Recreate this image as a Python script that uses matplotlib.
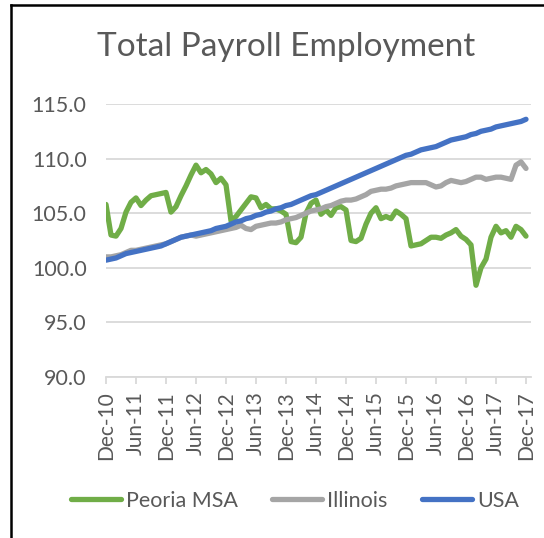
import matplotlib.pyplot as plt
from matplotlib.lines import Line2D

# monthly index, Dec-10 .. Dec-17 (85 months)
peoria = [105.8, 103.0, 102.9, 103.6, 105.1, 106.0, 106.4, 105.7, 106.2, 106.6,
          106.7, 106.8, 106.9, 105.1, 105.6, 106.6, 107.5, 108.5, 109.4, 108.7,
          109.0, 108.6, 107.8, 108.2, 107.6, 104.3, 104.7, 105.3, 105.9, 106.5,
          106.4, 105.5, 105.8, 105.4, 105.4, 105.2, 104.9, 102.4, 102.3, 102.8,
          105.0, 105.9, 106.2, 104.9, 105.3, 104.8, 105.5, 105.6, 105.3, 102.5,
          102.4, 102.7, 104.0, 105.0, 105.5, 104.5, 104.7, 104.5, 105.2, 104.9,
          104.5, 102.0, 102.1, 102.2, 102.5, 102.8, 102.8, 102.7, 103.0, 103.2,
          103.5, 102.9, 102.6, 102.1, 98.4, 100.0, 100.8, 102.8, 103.8, 103.2,
          103.4, 102.8, 103.8, 103.5, 102.9]

illinois = [101.0, 101.0, 101.1, 101.2, 101.4, 101.6, 101.6, 101.7, 101.8, 101.9,
            102.0, 102.1, 102.2, 102.4, 102.6, 102.8, 102.9, 103.0, 102.9, 103.0,
            103.1, 103.2, 103.3, 103.4, 103.5, 103.6, 103.7, 103.9, 103.6, 103.5,
            103.8, 103.9, 104.0, 104.1, 104.1, 104.2, 104.4, 104.5, 104.6, 104.8,
            105.0, 105.2, 105.3, 105.4, 105.6, 105.7, 105.9, 106.1, 106.2, 106.2,
            106.3, 106.5, 106.7, 107.0, 107.1, 107.2, 107.2, 107.3, 107.5, 107.6,
            107.7, 107.8, 107.8, 107.8, 107.8, 107.6, 107.4, 107.5, 107.8, 108.0,
            107.9, 107.8, 107.9, 108.1, 108.3, 108.3, 108.1, 108.2, 108.3, 108.3,
            108.2, 108.1, 109.4, 109.7, 109.1]

usa = [100.7, 100.8, 100.9, 101.1, 101.3, 101.4, 101.5, 101.6, 101.7, 101.8,
       101.9, 102.0, 102.2, 102.4, 102.6, 102.8, 102.9, 103.0, 103.1, 103.2,
       103.3, 103.4, 103.6, 103.7, 103.8, 104.0, 104.2, 104.3, 104.5, 104.6,
       104.8, 104.9, 105.1, 105.2, 105.4, 105.5, 105.7, 105.8, 106.0, 106.2,
       106.4, 106.6, 106.7, 106.9, 107.1, 107.3, 107.5, 107.7, 107.9, 108.1,
       108.3, 108.5, 108.7, 108.9, 109.1, 109.3, 109.5, 109.7, 109.9, 110.1,
       110.3, 110.4, 110.6, 110.8, 110.9, 111.0, 111.1, 111.3, 111.5, 111.7,
       111.8, 111.9, 112.0, 112.2, 112.3, 112.5, 112.6, 112.7, 112.9, 113.0,
       113.1, 113.2, 113.3, 113.4, 113.6]

tick_labels = ['Dec-10', 'Jun-11', 'Dec-11', 'Jun-12', 'Dec-12', 'Jun-13', 'Dec-13',
               'Jun-14', 'Dec-14', 'Jun-15', 'Dec-15', 'Jun-16', 'Dec-16', 'Jun-17',
               'Dec-17']

plt.rcParams['font.family'] = ['Lato', 'DejaVu Sans']
txt = '#595959'

fig = plt.figure(figsize=(5.44, 5.38), dpi=100)
ax = fig.add_axes([106 / 544, 1 - 377 / 538, 425 / 544, 273 / 538])

x = list(range(len(usa)))
lw = 3.8
ax.plot(x, peoria, color='#70AD47', lw=lw, solid_capstyle='round', label='Peoria MSA')
ax.plot(x, illinois, color='#A5A5A5', lw=lw, solid_capstyle='round', label='Illinois')
ax.plot(x, usa, color='#4472C4', lw=lw, solid_capstyle='round', label='USA')

ax.set_xlim(0, 85)
ax.set_ylim(90, 115)
ax.set_yticks([90, 95, 100, 105, 110, 115])
ax.set_yticklabels(['%.1f' % v for v in [90, 95, 100, 105, 110, 115]])
ax.set_xticks(list(range(0, 85, 6)))
ax.set_xticklabels(tick_labels, rotation=90)

ax.grid(axis='y', color='#D9D9D9', lw=1.3)
ax.set_axisbelow(True)
for s in ['top', 'right', 'left']:
    ax.spines[s].set_visible(False)
ax.spines['bottom'].set_color('#D9D9D9')
ax.spines['bottom'].set_linewidth(1.3)
ax.tick_params(axis='y', length=0, pad=14, labelsize=15.5, labelcolor=txt)
ax.tick_params(axis='x', length=5, color='#D9D9D9', width=1.3, pad=5,
               labelsize=15, labelcolor=txt)

fig.text(286 / 544, 1 - 47 / 538, 'Total Payroll Employment', ha='center', va='center',
         fontsize=24, color=txt)

handles = [Line2D([], [], color=c, lw=lw, solid_capstyle='round')
           for c in ['#70AD47', '#A5A5A5', '#4472C4']]
fig.legend(handles, ['Peoria MSA', 'Illinois', 'USA'], loc='center',
           bbox_to_anchor=(295 / 544, 1 - 501 / 538), ncol=3, frameon=False,
           fontsize=15.5, labelcolor=txt, handlelength=2.3, handletextpad=0.25,
           columnspacing=1.6)

# chart frame edges visible in the reference (left and top)
fig.add_artist(Line2D([11 / 544, 11 / 544], [0, 1 - 5 / 538], color='black', lw=1.8))
fig.add_artist(Line2D([11 / 544, 1], [1 - 5 / 538, 1 - 5 / 538], color='black', lw=1.8))

fig.savefig('out.png', dpi=100)
